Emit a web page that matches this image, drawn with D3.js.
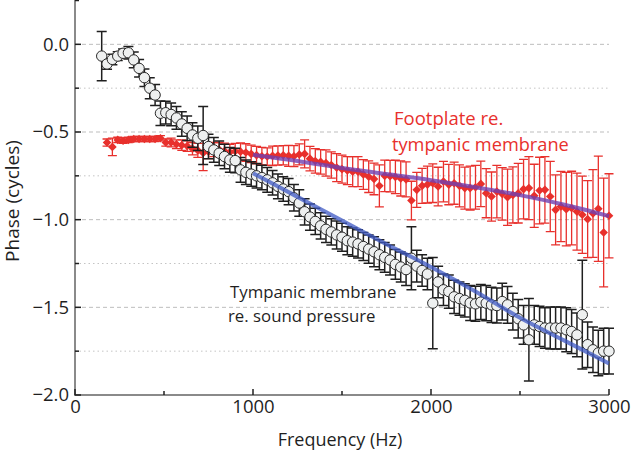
<!DOCTYPE html>
<html><head><meta charset="utf-8">
<script src="https://cdn.jsdelivr.net/npm/d3@7"></script>
<style>
body{margin:0;background:#fff;}
svg text{font-family:"Open Sans","DejaVu Sans",sans-serif;}
</style></head>
<body><svg id="c" width="632" height="453"></svg>
<script>
// ---- data ----
const freqBlack = [150,180,210,240,270,300,330,360,390,420,450,480,510,540,570,600,630,660,690,720,750,780,810,840,870,900,930,960,990,1020,1050,1080,1110,1140,1170,1200,1230,1260,1290,1320,1350,1380,1410,1440,1470,1500,1530,1560,1590,1620,1650,1680,1710,1740,1770,1800,1830,1860,1890,1920,1950,1980,2010,2040,2070,2100,2130,2160,2190,2220,2250,2280,2310,2340,2370,2400,2430,2460,2490,2520,2550,2580,2610,2640,2670,2700,2730,2760,2790,2820,2850,2880,2910,2940,2970,3000];
const phaseBlack = [-0.067,-0.112,-0.086,-0.067,-0.051,-0.048,-0.089,-0.137,-0.19,-0.25,-0.289,-0.393,-0.39,-0.40,-0.42,-0.454,-0.479,-0.517,-0.536,-0.52,-0.583,-0.602,-0.621,-0.64,-0.659,-0.663,-0.716,-0.73,-0.74,-0.75,-0.76,-0.773,-0.79,-0.81,-0.825,-0.84,-0.875,-0.905,-0.955,-0.985,-1.01,-1.035,-1.055,-1.07,-1.087,-1.10,-1.12,-1.128,-1.138,-1.153,-1.168,-1.183,-1.20,-1.215,-1.23,-1.255,-1.27,-1.285,-1.22,-1.265,-1.29,-1.31,-1.476,-1.355,-1.40,-1.41,-1.44,-1.45,-1.46,-1.475,-1.48,-1.47,-1.476,-1.486,-1.49,-1.467,-1.486,-1.524,-1.565,-1.60,-1.685,-1.60,-1.609,-1.618,-1.618,-1.618,-1.618,-1.628,-1.638,-1.657,-1.542,-1.713,-1.742,-1.76,-1.75,-1.75];
const errBlack = [0.14,0.03,0.03,0.025,0.025,0.035,0.045,0.05,0.05,0.06,0.06,0.07,0.065,0.065,0.065,0.07,0.07,0.07,0.07,0.165,0.07,0.07,0.07,0.07,0.07,0.07,0.07,0.07,0.07,0.07,0.07,0.07,0.07,0.07,0.07,0.075,0.075,0.075,0.075,0.075,0.075,0.075,0.075,0.075,0.08,0.08,0.08,0.08,0.08,0.08,0.08,0.085,0.085,0.085,0.085,0.085,0.085,0.09,0.18,0.09,0.09,0.09,0.26,0.09,0.09,0.095,0.095,0.095,0.095,0.1,0.1,0.1,0.1,0.1,0.1,0.105,0.105,0.105,0.11,0.11,0.235,0.11,0.115,0.115,0.12,0.12,0.12,0.125,0.125,0.125,0.31,0.13,0.13,0.13,0.13,0.13];

const freqRed = [180,210,240,270,300,330,360,390,420,450,480,510,540,570,600,630,660,690,720,750,780,810,840,870,900,930,960,990,1020,1050,1080,1110,1140,1170,1200,1230,1260,1290,1320,1350,1380,1410,1440,1470,1500,1530,1560,1590,1620,1650,1680,1710,1740,1770,1800,1830,1860,1890,1920,1950,1980,2010,2040,2070,2100,2130,2160,2190,2220,2250,2280,2310,2340,2370,2400,2430,2460,2490,2520,2550,2580,2610,2640,2670,2700,2730,2760,2790,2820,2850,2880,2910,2940,2970,3000];
const phaseRed = [-0.56,-0.585,-0.545,-0.55,-0.545,-0.54,-0.54,-0.54,-0.54,-0.54,-0.536,-0.56,-0.56,-0.57,-0.575,-0.58,-0.595,-0.605,-0.62,-0.612,-0.60,-0.60,-0.608,-0.615,-0.61,-0.612,-0.617,-0.625,-0.632,-0.638,-0.64,-0.636,-0.634,-0.633,-0.636,-0.638,-0.628,-0.625,-0.652,-0.665,-0.67,-0.677,-0.688,-0.703,-0.712,-0.72,-0.726,-0.726,-0.742,-0.755,-0.768,-0.807,-0.75,-0.752,-0.756,-0.765,-0.77,-0.891,-0.83,-0.807,-0.80,-0.792,-0.811,-0.783,-0.80,-0.792,-0.807,-0.82,-0.82,-0.815,-0.796,-0.849,-0.868,-0.84,-0.853,-0.872,-0.859,-0.849,-0.826,-0.82,-0.864,-0.834,-0.83,-0.868,-0.944,-0.925,-0.94,-0.934,-0.954,-0.972,-0.997,-0.965,-0.938,-1.073,-0.978];
const errRed = [0.02,0.05,0.015,0.015,0.015,0.015,0.015,0.015,0.015,0.015,0.015,0.02,0.025,0.025,0.03,0.03,0.035,0.04,0.1,0.04,0.04,0.04,0.045,0.045,0.045,0.05,0.05,0.05,0.05,0.05,0.05,0.055,0.055,0.055,0.06,0.06,0.06,0.08,0.07,0.07,0.07,0.075,0.075,0.08,0.08,0.08,0.085,0.085,0.085,0.09,0.09,0.12,0.09,0.09,0.095,0.1,0.1,0.11,0.1,0.1,0.105,0.11,0.11,0.115,0.115,0.12,0.12,0.12,0.125,0.125,0.13,0.14,0.14,0.15,0.15,0.16,0.16,0.17,0.17,0.18,0.18,0.19,0.19,0.2,0.2,0.2,0.21,0.21,0.22,0.22,0.22,0.25,0.3,0.31,0.24];

const fitFreq = [1000,1250,1500,1750,2000,2250,2500,2750,3000];
const fitBlack = [-0.735,-0.87,-1.005,-1.14,-1.27,-1.41,-1.56,-1.69,-1.82];
const fitRed = [-0.63,-0.665,-0.705,-0.74,-0.775,-0.815,-0.86,-0.915,-0.98];

const yMajor = [0,-0.5,-1,-1.5,-2];
const yMinor = [0.25,-0.25,-0.75,-1.25,-1.75];
const xMajor = [0,1000,2000,3000];
const xMinor = [500,1500,2500];

// ---- layout ----
const svg = d3.select("#c");
const x = d3.scaleLinear().domain([0,3000]).range([75,609]);
const y = d3.scaleLinear().domain([-2,0.25]).range([395,0.5]);
const red = "#e8302c", dark = "#1f1f1f";

// gridlines
svg.append("g").selectAll("line").data(yMajor.slice(0,4)).join("line")
  .attr("x1",75).attr("x2",609).attr("y1",d=>y(d)).attr("y2",d=>y(d))
  .attr("stroke","#bdbdbd").attr("stroke-width",1).attr("stroke-dasharray","4,3");
svg.append("g").selectAll("line").data(yMinor.slice(1)).join("line")
  .attr("x1",75).attr("x2",609).attr("y1",d=>y(d)).attr("y2",d=>y(d))
  .attr("stroke","#c4c4c4").attr("stroke-width",1).attr("stroke-dasharray","1.5,3");

const redData = freqRed.map((f,i)=>({f,v:phaseRed[i],e:errRed[i]}));
const blackData = freqBlack.map((f,i)=>({f,v:phaseBlack[i],e:errBlack[i]}));
function errBars(data,color,cap,w){
  const g = svg.append("g").attr("stroke",color).attr("stroke-width",w).attr("fill","none");
  g.selectAll("path").data(data).join("path")
   .attr("d",d=>{const cx=x(d.f), t=y(d.v+d.e), b=y(d.v-d.e);
     return `M${cx},${t}V${b}M${cx-cap},${t}H${cx+cap}M${cx-cap},${b}H${cx+cap}`;});
}
errBars(redData,red,4.5,1.3);
svg.append("g").selectAll("path").data(redData).join("path")
  .attr("d",d=>{const cx=x(d.f), cy=y(d.v), r=4.3; return `M${cx},${cy-r}L${cx+r},${cy}L${cx},${cy+r}L${cx-r},${cy}Z`;})
  .attr("fill",red);

errBars(blackData,dark,5,1.5);
svg.append("g").selectAll("circle").data(blackData).join("circle")
  .attr("cx",d=>x(d.f)).attr("cy",d=>y(d.v)).attr("r",5.2)
  .attr("fill","#eef0f0").attr("stroke","#2a2a2a").attr("stroke-width",1);

// fit lines
const line = d3.line().curve(d3.curveMonotoneX);
svg.append("path").attr("d",line(fitFreq.map((f,i)=>[x(f),y(fitRed[i])])))
  .attr("fill","none").attr("stroke","#7040b0").attr("stroke-opacity",0.8).attr("stroke-width",4);
svg.append("path").attr("d",line(fitFreq.map((f,i)=>[x(f),y(fitBlack[i])])))
  .attr("fill","none").attr("stroke","#3e58c4").attr("stroke-opacity",0.75).attr("stroke-width",4);

// axes
const fmtY = d=>d3.format(".1f")(d).replace("-","\u2212");
const yAxis = d3.axisLeft(y).tickValues(yMajor).tickSize(0).tickPadding(6).tickFormat(fmtY);
const gy = svg.append("g").attr("transform","translate(75,0)").call(yAxis);
gy.select(".domain").remove();
gy.selectAll("text").attr("font-size",18.5).attr("fill",dark).attr("font-family","'Open Sans',sans-serif");
const xAxis = d3.axisBottom(x).tickValues(xMajor).tickSize(0).tickPadding(5).tickFormat(d3.format("d"));
const gx = svg.append("g").attr("transform","translate(0,395)").call(xAxis);
gx.select(".domain").remove();
gx.selectAll("text").attr("font-size",18.5).attr("fill",dark).attr("font-family","'Open Sans',sans-serif");

// axis lines
svg.append("line").attr("x1",75).attr("x2",75).attr("y1",0).attr("y2",395).attr("stroke","#8a8a8a").attr("stroke-width",2);
svg.append("line").attr("x1",74).attr("x2",609).attr("y1",395).attr("y2",395).attr("stroke","#8a8a8a").attr("stroke-width",2);
svg.append("g").selectAll("line").data(yMajor).join("line")
  .attr("x1",75).attr("x2",81).attr("y1",d=>y(d)).attr("y2",d=>y(d)).attr("stroke",dark).attr("stroke-width",1.5);
svg.append("g").selectAll("line").data(yMinor).join("line")
  .attr("x1",75).attr("x2",79).attr("y1",d=>y(d)).attr("y2",d=>y(d)).attr("stroke",dark).attr("stroke-width",1.5);
svg.append("g").selectAll("line").data(xMajor).join("line")
  .attr("x1",d=>x(d)).attr("x2",d=>x(d)).attr("y1",395).attr("y2",389).attr("stroke",dark).attr("stroke-width",1.5);
svg.append("g").selectAll("line").data(xMinor).join("line")
  .attr("x1",d=>x(d)).attr("x2",d=>x(d)).attr("y1",395).attr("y2",391).attr("stroke",dark).attr("stroke-width",1.5);

// axis titles
svg.append("text").attr("transform","translate(19,201) rotate(-90)").attr("text-anchor","middle")
  .attr("font-size",19).attr("fill",dark).text("Phase (cycles)");
svg.append("text").attr("x",340).attr("y",446).attr("text-anchor","middle")
  .attr("font-size",18).attr("fill",dark).text("Frequency (Hz)");

// annotations
const af = "'Liberation Sans',Arial,sans-serif";
svg.append("text").attr("x",394).attr("y",125).attr("font-size",18.5).attr("fill",red)
  .attr("font-family",af).text("Footplate re.");
svg.append("text").attr("x",392).attr("y",151).attr("font-size",18.2).attr("fill",red)
  .attr("font-family",af).text("tympanic membrane");
svg.append("text").attr("x",230).attr("y",298).attr("font-size",16.8).attr("fill",dark)
  .attr("font-family",af).text("Tympanic membrane");
svg.append("text").attr("x",228).attr("y",322).attr("font-size",16.8).attr("fill",dark)
  .attr("font-family",af).text("re. sound pressure");
</script></body></html>
